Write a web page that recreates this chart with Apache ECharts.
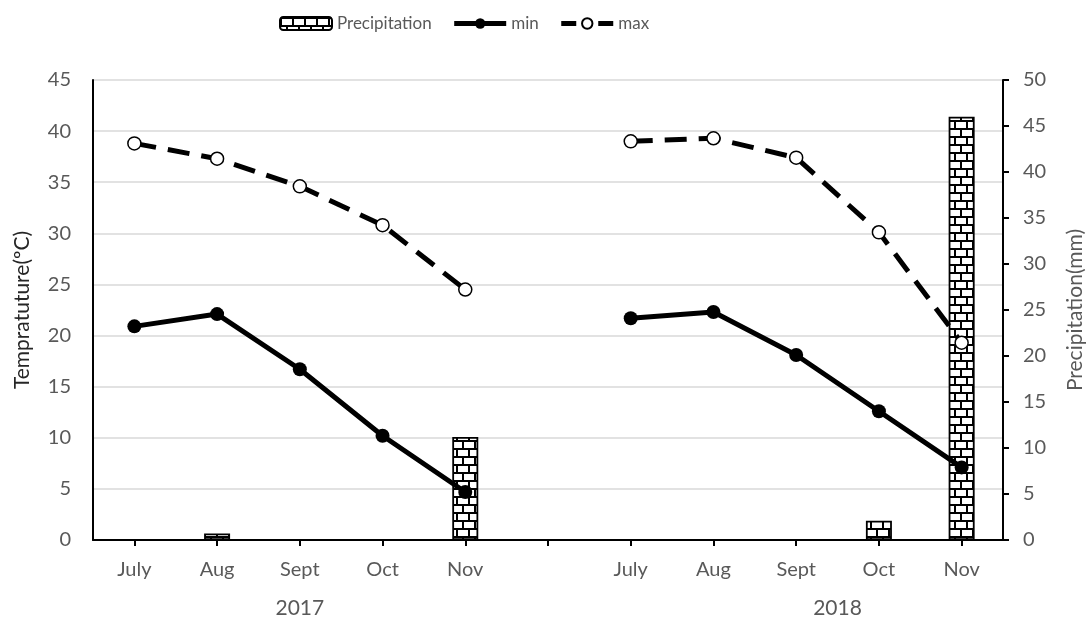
<!DOCTYPE html>
<html>
<head>
<meta charset="utf-8">
<script src="https://cdn.jsdelivr.net/npm/echarts@6/dist/echarts.min.js"></script>
<style>
html,body{margin:0;padding:0;background:#fff;}
#c{width:1088px;height:619px;}
</style>
</head>
<body>
<div id="c"></div>
<script>
// ---- data ----
const months = ['July','Aug','Sept','Oct','Nov','','July','Aug','Sept','Oct','Nov'];
const years = ['2017','2018'];
const precipitation = [0, 0.7, 0, 0, 11.2, null, 0, 0, 0, 2.1, 46.0];
const tMin = [20.9, 22.1, 16.7, 10.2, 4.7, null, 21.7, 22.3, 18.1, 12.6, 7.1];
const tMax = [38.8, 37.3, 34.6, 30.8, 24.5, null, 39.0, 39.3, 37.4, 30.1, 19.3];
const tempTicks = {min:0, max:45, interval:5};
const precTicks = {min:0, max:50, interval:5};

// brick pattern
function brickPattern(){
  const cv = document.createElement('canvas');
  cv.width = 24; cv.height = 16;
  const g = cv.getContext('2d');
  g.fillStyle = '#fff'; g.fillRect(0,0,24,16);
  g.strokeStyle = '#000'; g.lineWidth = 2;
  g.beginPath();
  g.moveTo(0,1); g.lineTo(24,1);
  g.moveTo(0,9); g.lineTo(24,9);
  g.moveTo(1,1); g.lineTo(1,9);
  g.moveTo(13,1); g.lineTo(13,9);
  g.moveTo(7,9); g.lineTo(7,17);
  g.moveTo(19,9); g.lineTo(19,17);
  g.stroke();
  return cv;
}

const FONT = 'Lato, "Open Sans", sans-serif';
const GRAY = '#595959';
const chart = echarts.init(document.getElementById('c'), null, {renderer:'canvas'});
const option = {
  animation: false,
  textStyle: {fontFamily: FONT},
  legend: {
    top: 10, left: 274,
    itemWidth: 52, itemHeight: 13, itemGap: 20,
    textStyle: {fontFamily: FONT, fontSize: 17, color: GRAY},
    data: [
      {name: 'Precipitation'},
      {name: 'min', lineStyle: {width: 5, color: '#000'}},
      {name: 'max', lineStyle: {width: 5, color: '#000', type: [15, 22]}}
    ]
  },
  grid: {left: 93, right: 85, top: 80, bottom: 79, containLabel: false, outerBoundsMode: 'none'},
  xAxis: {
    type: 'category', data: months, boundaryGap: true,
    axisLine: {lineStyle: {color: '#000', width: 2}},
    axisTick: {show: true, alignWithLabel: true, interval: 0, length: 6, lineStyle: {color: '#000', width: 2}},
    axisLabel: {interval: 0, margin: 20, fontSize: 20, color: GRAY, fontFamily: FONT}
  },
  yAxis: [{
    type: 'value', min: tempTicks.min, max: tempTicks.max, interval: tempTicks.interval,
    name: 'Tempratuture(ºC)', nameLocation: 'middle', nameGap: 60, nameRotate: 90,
    nameTextStyle: {fontSize: 21, color: '#262626', fontFamily: FONT},
    axisLine: {show: true, lineStyle: {color: '#000', width: 2}},
    axisTick: {show: false},
    axisLabel: {fontSize: 20, color: GRAY, margin: 22, fontFamily: FONT},
    splitLine: {show: true, lineStyle: {color: '#d9d9d9', width: 1.5}}
  },{
    type: 'value', position: 'right', min: precTicks.min, max: precTicks.max, interval: precTicks.interval,
    name: 'Precipitation(mm)', nameLocation: 'middle', nameGap: 62, nameRotate: 90,
    nameTextStyle: {fontSize: 21, color: GRAY, fontFamily: FONT},
    axisLine: {show: true, lineStyle: {color: '#000', width: 2}},
    axisTick: {show: true, length: 6, lineStyle: {color: '#000', width: 2}},
    axisLabel: {fontSize: 20, color: GRAY, margin: 20, fontFamily: FONT},
    splitLine: {show: false}
  }],
  series: [{
    name: 'Precipitation', type: 'bar', yAxisIndex: 1, barWidth: 26, z: 1,
    data: precipitation,
    itemStyle: {color: {image: brickPattern(), repeat: 'repeat'}, borderColor: '#000', borderWidth: 1.8}
  },{
    name: 'min', type: 'line', yAxisIndex: 0, z: 3,
    data: tMin, symbol: 'circle', symbolSize: 14,
    lineStyle: {color: '#000', width: 5},
    itemStyle: {color: '#000'}
  },{
    name: 'max', type: 'line', yAxisIndex: 0, z: 3,
    data: tMax, symbol: 'circle', symbolSize: 13,
    lineStyle: {color: '#000', width: 5, type: [22, 12]},
    itemStyle: {color: '#fff', borderColor: '#000', borderWidth: 1.5}
  }]
};
chart.setOption(option);

// year group labels under the month labels
const p = i => chart.convertToPixel({xAxisIndex: 0}, i);
const x2017 = (p(0) + p(4)) / 2;
const x2018 = (p(8) + p(9)) / 2;
const yYear = chart.getHeight() - 11;
chart.setOption({
  graphic: years.map((y, k) => ({
    type: 'text', x: k === 0 ? x2017 : x2018, y: yYear,
    style: {text: y, fontSize: 21, fill: GRAY, fontFamily: FONT, align: 'center', verticalAlign: 'middle'}
  }))
});
</script>
</body>
</html>
